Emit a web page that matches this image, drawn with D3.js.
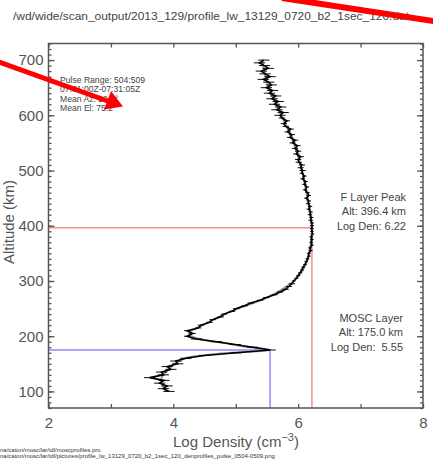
<!DOCTYPE html>
<html>
<head>
<meta charset="utf-8">
<script src="https://cdn.jsdelivr.net/npm/d3@7"></script>
<style>
  html, body { margin: 0; padding: 0; background: #fff; }
  svg { display: block; font-family: "Liberation Sans", Arial, sans-serif; }
</style>
</head>
<body>
<svg id="chart" width="433" height="462"></svg>
<script>
// Measured log electron density (cm^-3), one sample every 5 km from 100 to 700 km
const altitudeGrid = d3.range(100, 701, 5);
const logDensity = [
  3.93, 3.84, 3.90, 3.78, 3.85, 3.62, 3.84, 3.81, 3.96, 3.90,   // 100-145
  4.07, 4.04, 4.20, 4.50, 5.01, 5.55, 5.27, 4.99, 4.69, 4.37,   // 150-195
  4.22, 4.31, 4.22, 4.40, 4.44, 4.58, 4.63, 4.76, 4.81, 4.94,   // 200-245
  5.01, 5.14, 5.24, 5.39, 5.49, 5.62, 5.71, 5.80, 5.85, 5.90,   // 250-295
  5.93, 5.97, 6.00, 6.03, 6.06, 6.08, 6.11, 6.13, 6.15, 6.17,   // 300-345
  6.17, 6.20, 6.19, 6.22, 6.21, 6.22, 6.21, 6.23, 6.22, 6.22,   // 350-395
  6.22, 6.22, 6.20, 6.21, 6.19, 6.20, 6.17, 6.19, 6.16, 6.17,   // 400-445
  6.13, 6.17, 6.15, 6.11, 6.14, 6.10, 6.12, 6.07, 6.10, 6.06,   // 450-495
  6.07, 6.04, 6.06, 6.01, 6.00, 6.04, 5.97, 6.00, 5.95, 5.99,   // 500-545
  5.91, 5.95, 5.87, 5.90, 5.83, 5.88, 5.80, 5.77, 5.82, 5.74,   // 550-595
  5.71, 5.76, 5.66, 5.72, 5.62, 5.68, 5.58, 5.64, 5.54, 5.59,   // 600-645
  5.49, 5.57, 5.53, 5.44, 5.55, 5.47, 5.41, 5.52, 5.46, 5.38,   // 650-695
  5.45                                                          // 700
];

// Typical measurement uncertainty (log cm^-3) per 100 km altitude band, 100-700 km
const bandFloor = [100, 200, 300, 400, 500, 600];
const bandError = [0.09, 0.05, 0.03, 0.035, 0.05, 0.09];

// Smooth model profile through the measurements
const fitAltitude = [100, 120, 140, 155, 162, 168, 172, 175, 178, 182, 188, 195, 205,
                     220, 245, 270, 300, 340, 396.4, 450, 500, 550, 600, 650, 700];
const fitLogDensity = [3.90, 3.80, 3.92, 4.09, 4.25, 4.70, 5.20, 5.55, 5.40, 5.10, 4.80, 4.42, 4.25,
                       4.47, 4.92, 5.50, 5.93, 6.15, 6.22, 6.15, 6.06, 5.93, 5.73, 5.53, 5.42];

// Layer peaks
const fLayer = { name: "F Layer Peak", alt: 396.4, logDen: 6.22 };
const moscLayer = { name: "MOSC Layer", alt: 175.0, logDen: 5.55 };

// Axes
const xMajorTicks = [2, 4, 6, 8];
const xAllTicks = [2, 3, 4, 5, 6, 7, 8];
const yMajorTicks = [100, 200, 300, 400, 500, 600, 700];
const yMinorTicks = d3.range(70, 731, 10);

const titleText = "/wd/wide/scan_output/2013_129/profile_lw_13129_0720_b2_1sec_120.dat";
const infoLines = ["Pulse Range: 504:509", "07:31:00Z-07:31:05Z", "Mean Az: 22.1\u00b0", "Mean El: 75.2\u00b0"];
const footerLines = [
  "na/caton/mosc/lar/idl/moscprofiles.pro",
  "na/caton/mosc/lar/idl/pictures/profile_lw_13129_0720_b2_1sec_120_denprofiles_pulse_0504-0509.png"
];

const svg = d3.select("#chart");
const L = 48.5, R = 423, T = 43.5, B = 408;
const x = d3.scaleLinear().domain([2, 8]).range([L, R]);
const y = d3.scaleLinear().domain([70, 730]).range([B, T]);

const axisColor = "#555";
const textColor = "#444";

// Title
svg.append("text")
  .attr("x", 13).attr("y", 20)
  .attr("font-size", 11).attr("fill", textColor)
  .attr("textLength", 396).attr("lengthAdjust", "spacingAndGlyphs")
  .text(titleText);

// Profile curves, clipped to the plot frame
svg.append("clipPath").attr("id", "plotClip")
  .append("rect").attr("x", L).attr("y", T).attr("width", R - L).attr("height", B - T);
const plot = svg.append("g").attr("clip-path", "url(#plotClip)");

// Peak guide lines
function peakLines(layer, color) {
  plot.append("line")
    .attr("x1", L).attr("x2", x(layer.logDen))
    .attr("y1", y(layer.alt)).attr("y2", y(layer.alt))
    .attr("stroke", color).attr("stroke-width", 1.5);
  plot.append("line")
    .attr("x1", x(layer.logDen)).attr("x2", x(layer.logDen))
    .attr("y1", y(layer.alt)).attr("y2", B)
    .attr("stroke", color).attr("stroke-width", 1.5);
}
peakLines(fLayer, "#ff8a8a");
peakLines(moscLayer, "#8a8aff");

const fitLine = d3.line()
  .x((d, i) => x(fitLogDensity[i]))
  .y(d => y(d))
  .curve(d3.curveMonotoneY);
plot.append("path")
  .datum(fitAltitude)
  .attr("d", fitLine)
  .attr("fill", "none").attr("stroke", "#9a9a9a").attr("stroke-width", 2);

// Horizontal error bars on each sample
const errorFor = alt => bandError[Math.max(0, d3.bisectRight(bandFloor, alt) - 1)];
plot.append("g").selectAll("line").data(altitudeGrid).join("line")
  .attr("x1", (d, i) => x(logDensity[i] - errorFor(d)))
  .attr("x2", (d, i) => x(logDensity[i] + errorFor(d)))
  .attr("y1", d => y(d)).attr("y2", d => y(d))
  .attr("stroke", "#111").attr("stroke-width", 1);

const dataLine = d3.line()
  .x((d, i) => x(logDensity[i]))
  .y(d => y(d));
plot.append("path")
  .datum(altitudeGrid)
  .attr("d", dataLine)
  .attr("fill", "none").attr("stroke", "#000").attr("stroke-width", 1.6);

// Frame
svg.append("rect")
  .attr("x", L).attr("y", T).attr("width", R - L).attr("height", B - T)
  .attr("fill", "none").attr("stroke", axisColor).attr("stroke-width", 1.5);

// Ticks on all four sides
function styleAxis(g) {
  g.select(".domain").remove();
  g.selectAll(".tick line").attr("stroke", axisColor).attr("stroke-width", 1.3);
  g.selectAll("text").attr("fill", "#555").attr("font-size", 15)
    .attr("font-family", "Liberation Sans, Arial, sans-serif");
}
svg.append("g").attr("transform", `translate(${L},0)`)
  .call(d3.axisRight(y).tickValues(yMinorTicks).tickSize(3).tickFormat("")).call(styleAxis);
svg.append("g").attr("transform", `translate(${L},0)`)
  .call(d3.axisRight(y).tickValues(yMajorTicks).tickSize(6).tickFormat("")).call(styleAxis);
svg.append("g").attr("transform", `translate(${L},0)`)
  .call(d3.axisLeft(y).tickValues(yMajorTicks).tickSize(0).tickPadding(5).tickFormat(d3.format("d"))).call(styleAxis);
svg.append("g").attr("transform", `translate(${R},0)`)
  .call(d3.axisLeft(y).tickValues(yMinorTicks).tickSize(3).tickFormat("")).call(styleAxis);
svg.append("g").attr("transform", `translate(${R},0)`)
  .call(d3.axisLeft(y).tickValues(yMajorTicks).tickSize(6).tickFormat("")).call(styleAxis);

svg.append("g").attr("transform", `translate(0,${B})`)
  .call(d3.axisTop(x).tickValues(xAllTicks).tickSize(4).tickFormat("")).call(styleAxis);
svg.append("g").attr("transform", `translate(0,${B})`)
  .call(d3.axisBottom(x).tickValues(xMajorTicks).tickSize(0).tickPadding(9).tickFormat(d3.format("d"))).call(styleAxis);
svg.append("g").attr("transform", `translate(0,${T})`)
  .call(d3.axisBottom(x).tickValues(xAllTicks).tickSize(4).tickFormat("")).call(styleAxis);

// Axis titles
const xTitle = svg.append("text")
  .attr("x", 236).attr("y", 447).attr("text-anchor", "middle")
  .attr("font-size", 15).attr("fill", "#555");
xTitle.append("tspan").text("Log Density (cm");
xTitle.append("tspan").attr("dy", -6).attr("font-size", 11).text("\u22123");
xTitle.append("tspan").attr("dy", 6).text(")");

svg.append("text")
  .attr("transform", "translate(14,222) rotate(-90)")
  .attr("text-anchor", "middle").attr("font-size", 15).attr("fill", "#555")
  .text("Altitude (km)");

// Pulse information block
svg.append("g").selectAll("text").data(infoLines).join("text")
  .attr("x", 60).attr("y", (d, i) => 83 + i * 9.3)
  .attr("font-size", 8.6).attr("fill", textColor)
  .text(d => d);

// Peak annotations
function peakLabel(layer, rightX, topY, valueText) {
  const lines = [layer.name, `Alt: ${layer.alt.toFixed(1)} km`, valueText];
  svg.append("g").selectAll("text").data(lines).join("text")
    .attr("x", rightX).attr("y", (d, i) => topY + i * 14.3)
    .attr("text-anchor", "end").attr("font-size", 11).attr("fill", textColor)
    .attr("xml:space", "preserve")
    .text(d => d);
}
peakLabel(fLayer, 406, 201, `Log Den: ${fLayer.logDen.toFixed(2)}`);
peakLabel(moscLayer, 403, 322, `Log Den:  ${moscLayer.logDen.toFixed(2)}`);

// Footer with source paths
svg.append("g").selectAll("text").data(footerLines).join("text")
  .attr("x", 0).attr("y", (d, i) => 452 + i * 5.5)
  .attr("font-size", 6).attr("fill", "#333")
  .text(d => d);

// Red pointer arrows
svg.append("line")
  .attr("x1", -4).attr("y1", 61).attr("x2", 109).attr("y2", 101.5)
  .attr("stroke", "#f00").attr("stroke-width", 5);
svg.append("polygon")
  .attr("points", "123,106.5 104,109.5 111,91")
  .attr("fill", "#f00");
svg.append("line")
  .attr("x1", 282).attr("y1", -2).attr("x2", 440).attr("y2", 22)
  .attr("stroke", "#f00").attr("stroke-width", 6);
</script>
</body>
</html>
